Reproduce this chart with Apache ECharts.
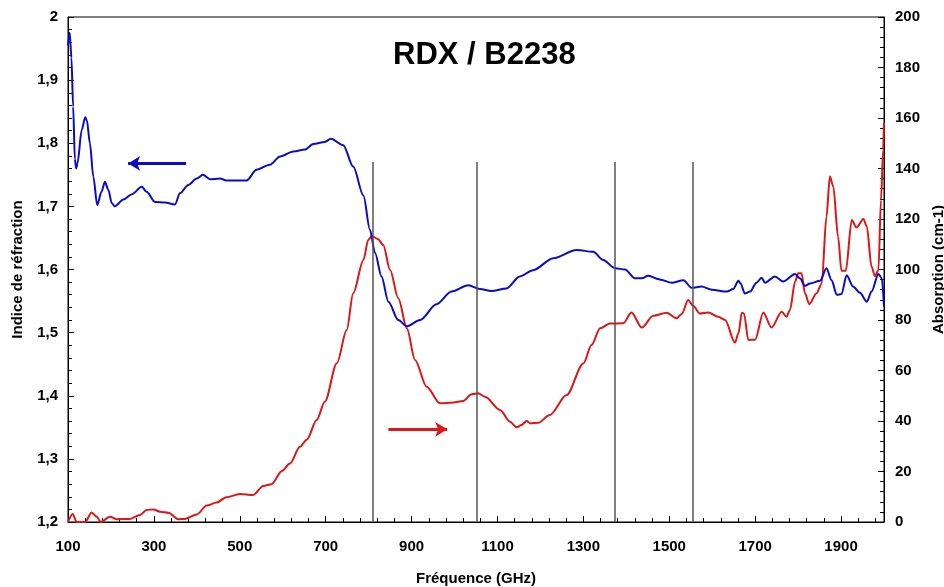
<!DOCTYPE html>
<html>
<head>
<meta charset="utf-8">
<script src="https://cdn.jsdelivr.net/npm/echarts@6/dist/echarts.min.js"></script>
<style>html,body{margin:0;padding:0;background:#fff}#c{width:944px;height:587px}</style>
</head>
<body>
<div id="c"></div>
<script>
const titleText = 'RDX / B2238';
const xName = 'Fréquence (GHz)';
const yLeftName = 'Indice de réfraction';
const yRightName = 'Absorption (cm-1)';

// Refractive index (left axis): [frequency GHz, index]
const refIndex = [[100,1.955],[104,1.975],[108,1.935],[112,1.858],[116,1.775],[119,1.760],[122,1.768],[132,1.821],[140,1.841],[144,1.836],[151,1.800],[159,1.747],[168,1.702],[178,1.723],[186,1.739],[194,1.726],[202,1.705],[209,1.700],[229,1.711],[248,1.719],[272,1.731],[283,1.723],[303,1.707],[326,1.706],[349,1.703],[361,1.721],[380,1.734],[400,1.744],[414,1.750],[431,1.743],[454,1.744],[469,1.741],[516,1.741],[539,1.758],[570,1.766],[594,1.779],[625,1.787],[652,1.790],[671,1.799],[698,1.802],[712,1.807],[741,1.797],[764,1.763],[788,1.717],[803,1.663],[815,1.626],[830,1.589],[846,1.549],[869,1.520],[889,1.510],[920,1.520],[958,1.545],[993,1.565],[1032,1.575],[1059,1.569],[1086,1.566],[1121,1.570],[1152,1.589],[1183,1.599],[1230,1.618],[1284,1.631],[1323,1.628],[1346,1.615],[1374,1.602],[1397,1.600],[1420,1.586],[1436,1.586],[1451,1.590],[1478,1.584],[1506,1.579],[1533,1.583],[1552,1.571],[1575,1.573],[1599,1.568],[1634,1.565],[1649,1.569],[1661,1.582],[1666,1.578],[1676,1.562],[1688,1.565],[1703,1.579],[1715,1.587],[1723,1.579],[1746,1.589],[1765,1.581],[1793,1.593],[1804,1.586],[1816,1.574],[1828,1.578],[1851,1.582],[1866,1.602],[1878,1.583],[1890,1.560],[1901,1.561],[1913,1.591],[1928,1.573],[1944,1.563],[1960,1.549],[1971,1.565],[1987,1.593],[1995,1.586],[2000,1.541]];

// Absorption (right axis): [frequency GHz, cm-1]
const absorption = [[100,0],[111,3.2],[120,0],[140,0],[155,3.8],[167,2.1],[176,0],[198,2.1],[213,1.1],[244,1.2],[268,2.8],[283,4.8],[299,5.0],[314,4.1],[334,3.7],[357,1.1],[372,1.2],[400,3.0],[423,6.5],[446,7.7],[469,9.8],[500,11.1],[531,10.7],[555,14.3],[574,15.0],[598,20.2],[617,23.2],[640,29.8],[656,32.6],[679,40.4],[698,47.6],[726,62.9],[749,76.0],[764,90.6],[788,103.8],[799,111.7],[807,113.3],[822,112.0],[834,109.7],[850,99.8],[869,88.6],[889,76.7],[908,64.2],[935,53.6],[966,47.0],[997,47.3],[1020,47.9],[1040,50.6],[1055,51.0],[1071,49.6],[1106,44.4],[1129,39.7],[1145,37.5],[1156,38.4],[1168,40.0],[1176,39.1],[1195,39.3],[1222,42.4],[1261,50.3],[1300,62.8],[1319,70.1],[1339,76.7],[1362,78.6],[1393,78.7],[1412,83.0],[1436,77.0],[1463,81.7],[1494,82.9],[1517,80.7],[1529,82.4],[1544,87.9],[1556,85.5],[1571,82.6],[1591,83.0],[1614,81.3],[1630,80.0],[1653,71.0],[1661,74.7],[1669,82.9],[1674,82.6],[1684,72.1],[1700,72.2],[1719,83.0],[1738,77.0],[1762,83.3],[1773,81.3],[1781,84.0],[1793,95.2],[1800,98.5],[1808,98.5],[1816,90.6],[1826,86.3],[1843,90.6],[1855,94.5],[1866,120.9],[1874,136.8],[1882,132.8],[1893,113.0],[1901,99.5],[1911,99.5],[1925,119.6],[1936,116.6],[1952,120.0],[1960,117.0],[1971,101.1],[1979,97.4],[1987,99.8],[1993,127.5],[1998,147.3],[2000,158]];

// Vertical reference lines (GHz) and their top (absorption units)
const refLinesGHz = [810, 1052, 1374, 1555];
const refLineTop = 142.6;
// Arrows: [fromGHz, toGHz, level]
const blueArrow = [375, 240, 1.768];
const redArrow = [846, 983, 36.7];

const FONT = "'Liberation Sans', Arial, sans-serif";
const comma = v => String(Math.round(v * 10) / 10).replace('.', ',');

const chart = echarts.init(document.getElementById('c'), null, {renderer: 'canvas'});
const lbl = {fontFamily: FONT, fontWeight: 'bold', fontSize: 15, color: '#000'};

chart.setOption({
  animation: false,
  backgroundColor: '#fff',
  title: {
    text: titleText, left: 388, top: 35,
    textStyle: {fontFamily: FONT, fontWeight: 'bold', fontSize: 31, color: '#000'}
  },
  grid: {left: 68, right: 60, top: 17, bottom: 65, show: true, borderColor: '#000', borderWidth: 1, containLabel: false, outerBoundsMode: 'none'},
  xAxis: {
    type: 'value', min: 100, max: 2000, interval: 200,
    name: xName, nameLocation: 'middle', nameGap: 49,
    nameTextStyle: lbl,
    axisLine: {show: true, lineStyle: {color: '#000', width: 1}},
    axisTick: {show: true, inside: true, length: 6, lineStyle: {color: '#000'}},
    minorTick: {show: true, splitNumber: 5, length: 4, lineStyle: {color: '#000'}},
    axisLabel: {...lbl, margin: 17, formatter: v => (v === 2000 ? '' : String(v))},
    splitLine: {show: false}
  },
  yAxis: [{
    type: 'value', min: 1.2, max: 2, interval: 0.1, position: 'left',
    name: yLeftName, nameLocation: 'middle', nameRotate: 90, nameGap: 43,
    nameTextStyle: lbl,
    axisLine: {show: true, lineStyle: {color: '#000'}},
    axisTick: {show: true, inside: true, length: 6, lineStyle: {color: '#000'}},
    minorTick: {show: true, splitNumber: 5, length: 4, lineStyle: {color: '#000'}},
    axisLabel: {...lbl, margin: 10, formatter: comma},
    splitLine: {show: false}
  }, {
    type: 'value', min: 0, max: 200, interval: 20, position: 'right',
    name: yRightName, nameLocation: 'middle', nameRotate: 90, nameGap: 43,
    nameTextStyle: lbl,
    axisLine: {show: true, lineStyle: {color: '#000'}},
    axisTick: {show: true, inside: true, length: 6, lineStyle: {color: '#000'}},
    minorTick: {show: true, splitNumber: 5, length: 4, lineStyle: {color: '#000'}},
    axisLabel: {...lbl, margin: 11},
    splitLine: {show: false}
  }],
  series: [{
    type: 'line', name: 'abs', yAxisIndex: 1, data: absorption,
    showSymbol: false, smooth: 0.3, smoothMonotone: 'x',
    lineStyle: {color: '#e01515', width: 2},
    markLine: {
      silent: true, symbol: ['none', 'none'], label: {show: false},
      data: refLinesGHz.map(f => [
        {coord: [f, 0], lineStyle: {color: '#555', width: 1.5, type: 'solid'}},
        {coord: [f, refLineTop]}
      ]).concat([[
        {coord: [redArrow[0], redArrow[2]], symbol: 'none', lineStyle: {color: '#e01515', width: 3, type: 'solid'}},
        {coord: [redArrow[1], redArrow[2]], symbol: 'arrow', symbolSize: [11, 12]}
      ]])
    },
    z: 2
  }, {
    type: 'line', name: 'n', yAxisIndex: 0, data: refIndex,
    showSymbol: false, smooth: 0.3, smoothMonotone: 'x',
    lineStyle: {color: '#0a0ac8', width: 2},
    markLine: {
      silent: true, symbol: ['none', 'none'], label: {show: false},
      data: [[
        {coord: [blueArrow[0], blueArrow[2]], symbol: 'none', lineStyle: {color: '#0a0ac8', width: 3, type: 'solid'}},
        {coord: [blueArrow[1], blueArrow[2]], symbol: 'arrow', symbolSize: [11, 12]}
      ]]
    },
    z: 3
  }]
});
</script>
</body>
</html>
